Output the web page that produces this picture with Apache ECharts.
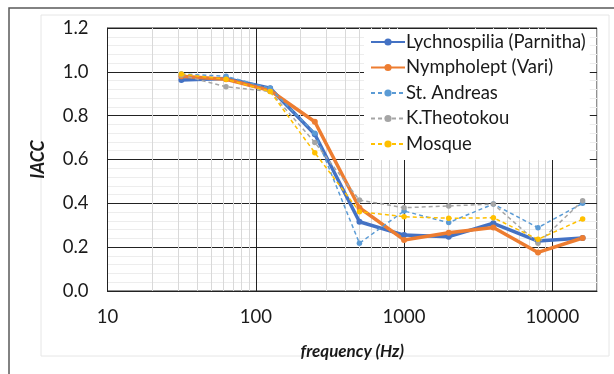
<!DOCTYPE html>
<html>
<head>
<meta charset="utf-8">
<script src="https://cdn.jsdelivr.net/npm/echarts@6/dist/echarts.min.js"></script>
<style>
  html, body { margin: 0; padding: 0; background: #fff; }
  #chart { width: 614px; height: 374px; }
</style>
</head>
<body>
<div id="chart"></div>
<script>
// octave band centre frequencies (Hz)
var freqs = [31.5, 63, 125, 250, 500, 1000, 2000, 4000, 8000, 16000];

// IACC per site
var lychnospilia = [0.963, 0.97, 0.925, 0.715, 0.316, 0.255, 0.248, 0.309, 0.228, 0.242];
var nympholept   = [0.98, 0.966, 0.915, 0.772, 0.38, 0.233, 0.266, 0.29, 0.176, 0.242];
var stAndreas    = [0.99, 0.98, 0.925, 0.72, 0.218, 0.365, 0.312, 0.397, 0.289, 0.40];
var kTheotokou   = [0.985, 0.932, 0.91, 0.678, 0.415, 0.38, 0.388, 0.397, 0.218, 0.412];
var mosque       = [0.99, 0.966, 0.91, 0.631, 0.362, 0.339, 0.332, 0.334, 0.236, 0.328];

var decades = [10, 100, 1000, 10000];
var minorSteps = [2, 3, 4, 5, 6, 7, 8, 9];

var font = 'Lato, "Open Sans", sans-serif';

function pairs(vals) {
  return freqs.map(function (f, i) { return [f, vals[i]]; });
}

// minor log gridlines (20..90, 200..900, ...)
var minorLines = [];
decades.forEach(function (d) {
  minorSteps.forEach(function (m) {
    if (d * m <= 20000) minorLines.push({ xAxis: d * m });
  });
});

function solid(name, color, vals) {
  return {
    name: name, type: 'line', data: pairs(vals),
    symbol: 'circle', symbolSize: 6,
    lineStyle: { color: color, width: 3.5 },
    itemStyle: { color: color }
  };
}
function dashed(name, color, vals) {
  return {
    name: name, type: 'line', data: pairs(vals),
    symbol: 'circle', symbolSize: 5.5,
    lineStyle: { color: color, width: 1.5, type: [4, 3] },
    itemStyle: { color: color }
  };
}

var chart = echarts.init(document.getElementById('chart'));
chart.setOption({
  animation: false,
  textStyle: { fontFamily: font },
  graphic: [
    { type: 'rect', shape: { x: 9, y: 8, width: 700, height: 500 }, style: { fill: 'none', stroke: '#5a5a5a', lineWidth: 1.5 }, z: -10 },
    { type: 'rect', shape: { x: 41, y: 15, width: 568, height: 341 }, style: { fill: 'none', stroke: '#e6e6e6', lineWidth: 1 }, z: -10 }
  ],
  grid: { left: 107.5, right: 17, top: 28, bottom: 83, show: true, borderColor: '#222', borderWidth: 1 },
  legend: {
    orient: 'vertical', left: 364, top: 29, z: 20,
    backgroundColor: '#fff', padding: [3, 4, 6, 6],
    itemWidth: 34, itemHeight: 9, itemGap: 5.5,
    textStyle: { fontFamily: font, fontSize: 18.5, lineHeight: 20, color: '#1a1a1a', padding: [0, 0, 0, -4] },
    data: ['Lychnospilia (Parnitha)', 'Nympholept (Vari)', 'St. Andreas', 'K.Theotokou', 'Mosque']
  },
  xAxis: {
    type: 'log', logBase: 10, min: 10, max: 20000,
    name: 'frequency (Hz)', nameLocation: 'middle', nameGap: 52,
    nameTextStyle: { fontFamily: font, fontSize: 17, fontWeight: 'bold', fontStyle: 'italic', color: '#1a1a1a' },
    axisLine: { show: true, lineStyle: { color: '#222' } },
    axisTick: { show: false },
    axisLabel: {
      fontSize: 18.5, color: '#1a1a1a', margin: 17, showMaxLabel: false,
      formatter: function (v) { return String(Math.round(v)); }
    },
    splitLine: { show: true, lineStyle: { color: '#222', width: 1 } },
    minorTick: { show: false },
    minorSplitLine: { show: false }
  },
  yAxis: {
    type: 'value', min: 0, max: 1.2, interval: 0.2,
    name: 'IACC', nameLocation: 'middle', nameGap: 60,
    nameTextStyle: { fontFamily: font, fontSize: 18, fontWeight: 'bold', fontStyle: 'italic', color: '#1a1a1a' },
    axisLine: { show: true, lineStyle: { color: '#222' } },
    axisTick: { show: false },
    axisLabel: {
      fontSize: 18.5, color: '#1a1a1a', margin: 19,
      formatter: function (v) { return v.toFixed(1); }
    },
    splitLine: { show: true, lineStyle: { color: '#222', width: 1 } },
    minorTick: { show: false, splitNumber: 5 },
    minorSplitLine: { show: true, lineStyle: { color: '#ededed', width: 1 } }
  },
  series: [
    {
      name: 'minor', type: 'line', data: [], silent: true, z: 0,
      markLine: {
        silent: true, symbol: 'none', label: { show: false }, z: 0,
        lineStyle: { color: '#d9d9d9', width: 1, type: 'solid' },
        data: minorLines
      }
    },
    solid('Lychnospilia (Parnitha)', '#4472c4', lychnospilia),
    solid('Nympholept (Vari)', '#ed7d31', nympholept),
    dashed('St. Andreas', '#5b9bd5', stAndreas),
    dashed('K.Theotokou', '#a5a5a5', kTheotokou),
    dashed('Mosque', '#ffc000', mosque)
  ]
});
</script>
</body>
</html>
